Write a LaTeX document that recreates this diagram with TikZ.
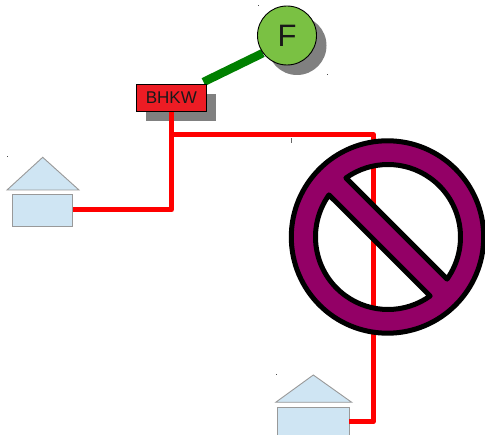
\documentclass[tikz,border=0pt]{standalone}
\usepackage{xcolor}
\usepackage{fontspec}
\setmainfont{Liberation Sans}
\usetikzlibrary{shadows, backgrounds}

\definecolor{wirered}{HTML}{FF0000}
\definecolor{boxred}{HTML}{ED1C24}
\definecolor{genfill}{HTML}{7AC143}
\definecolor{shaftgreen}{HTML}{008000}
\definecolor{housefill}{HTML}{CFE5F3}
\definecolor{houseline}{HTML}{999999}
\definecolor{signpurple}{HTML}{930066}

\tikzset{
  blockshadow/.style={general shadow={shadow xshift=10pt, shadow yshift=-10pt, fill=gray}},
  house/.style={draw=houseline, fill=housefill, line width=0.9pt, inner sep=0pt},
  wire/.style={draw=wirered, line width=5pt, line join=round},
  speck/.style={fill=black!70, inner sep=0pt, minimum size=1pt}
}

\begin{document}
\begin{tikzpicture}[x=1pt, y=1pt]
\clip (0,0) rectangle (485,-435);

% Wires under the sign
\coordinate (junction) at (171.3,-134.5);
\coordinate (corner) at (373.3,-134.5);
\coordinate (shaftend) at (203.5,-82);

% Generator and block
\node[circle, draw=black, fill=genfill, line width=0.9pt, minimum size=59pt, inner sep=0pt,
  font=\fontsize{31}{31}\selectfont, text=black!90, blockshadow] (gen) at (287,-35.5) {F};
\node[rectangle, draw=black, fill=boxred, line width=0.9pt, minimum width=70pt, minimum height=27pt,
  inner sep=0pt, font=\fontsize{17}{17}\selectfont, text=black!90, blockshadow] (bhkw) at (171.3,-98) {BHKW};
\begin{scope}[on background layer]
\draw[shaftgreen, line width=8.5pt] (shaftend) -- (gen.216);
\end{scope}

% Houses
\node[house, minimum width=60pt, minimum height=32pt] (houseA) at (42.3,-210) {};
\node[house, minimum width=72pt, minimum height=29pt] (houseB) at (313,-421.7) {};
\draw[house] (7,-190) -- (42.7,-157.3) -- (79,-190) -- cycle;
\draw[house] (275.7,-402.3) -- (313.3,-375) -- (351.7,-402.3) -- cycle;

% Connections
\draw[wire] (bhkw.south) |- (houseA.east);
\draw[wire] (junction) -- (corner) |- (houseB.east);

% Sign
\draw[black, fill=signpurple, line width=5pt, line join=round, even odd rule]
  (387.5,-237) circle (96.2)
  ([shift={(388,-237)}]-35.47:72.5) arc[start angle=-35.47, end angle=125.47, radius=72.5] -- cycle
  ([shift={(388,-237)}]144.53:72.5) arc[start angle=144.53, end angle=305.53, radius=72.5] -- cycle;

% Specks
\draw[black!60, line width=0.7pt] (291,-138) -- (291,-143);
\foreach \x/\y [count=\i] in {7/157, 276/375, 258/6, 327/75} {
  \node[speck] (speck\i) at (\x,-\y) {};
}
\end{tikzpicture}
\end{document}
